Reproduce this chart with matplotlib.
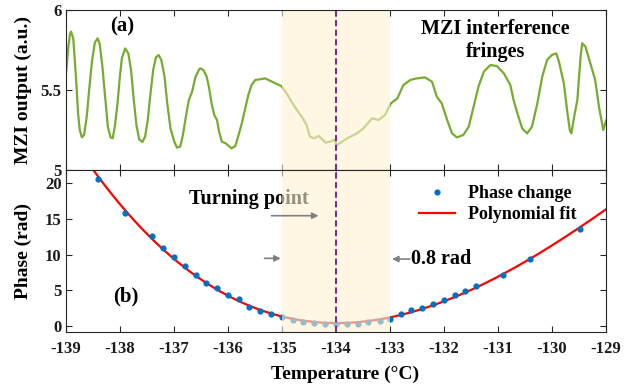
import numpy as np
import matplotlib
matplotlib.use('Agg')
import matplotlib.pyplot as plt
from matplotlib.lines import Line2D

# ---------------- data ----------------
temp_mzi = [-138.99, -138.95, -138.92, -138.90, -138.86, -138.81, -138.77, -138.74, -138.70, -138.66,
            -138.61, -138.56, -138.51, -138.46, -138.41, -138.37, -138.32, -138.27, -138.22, -138.17,
            -138.13, -138.09, -138.04, -138.00, -137.96, -137.90, -137.84, -137.79, -137.74, -137.69,
            -137.64, -137.58, -137.53, -137.48, -137.43, -137.38, -137.33, -137.28, -137.23, -137.17,
            -137.12, -137.06, -136.99, -136.94, -136.88, -136.83, -136.77, -136.72, -136.66, -136.60,
            -136.53,
            -136.51, -136.45, -136.39, -136.35, -136.30, -136.25, -136.20, -136.16, -136.11, -136.04,
            -135.98, -135.93, -135.86, -135.80, -135.74, -135.68, -135.62, -135.56, -135.49, -135.40,
            -135.31, -135.22, -135.12, -135.01, -134.91, -134.82, -134.72, -134.63, -134.54, -134.48,
            -134.40, -134.32, -134.25, -134.19, -134.11, -134.03,
            -133.98, -133.79, -133.61, -133.49, -133.33, -133.21, -133.09, -132.98, -132.86, -132.75,
            -132.62, -132.50, -132.35, -132.22, -132.13, -132.04, -131.94, -131.85, -131.76, -131.64,
            -131.54, -131.45, -131.36, -131.26, -131.14, -131.02, -130.89, -130.77, -130.71, -130.64,
            -130.55, -130.46, -130.37, -130.27, -130.18, -130.09, -130.00, -129.92, -129.87, -129.78,
            -129.72, -129.67, -129.64, -129.60, -129.53, -129.47, -129.44, -129.38, -129.29, -129.20,
            -129.13, -129.05, -129.00]
mzi_out = [5.615, 5.771, 5.850, 5.865, 5.823, 5.583, 5.354, 5.250, 5.204, 5.219,
           5.333, 5.521, 5.688, 5.796, 5.823, 5.788, 5.646, 5.458, 5.271, 5.204,
           5.198, 5.271, 5.417, 5.573, 5.698, 5.760, 5.729, 5.625, 5.438, 5.281,
           5.192, 5.175, 5.208, 5.313, 5.479, 5.625, 5.704, 5.719, 5.688, 5.583,
           5.417, 5.260, 5.177, 5.140, 5.146, 5.219, 5.344, 5.438, 5.490, 5.579,
           5.629,
           5.635, 5.625, 5.583, 5.521, 5.417, 5.344, 5.313, 5.240, 5.177, 5.167,
           5.150, 5.135, 5.150, 5.219, 5.292, 5.379, 5.469, 5.531, 5.563, 5.567,
           5.573, 5.558, 5.542, 5.525, 5.479, 5.427, 5.375, 5.333, 5.281, 5.208,
           5.198, 5.213, 5.192, 5.171, 5.177, 5.188,
           5.156, 5.198, 5.229, 5.260, 5.323, 5.313, 5.344, 5.417, 5.448, 5.531,
           5.563, 5.573, 5.579, 5.552, 5.458, 5.417, 5.313, 5.229, 5.204, 5.219,
           5.271, 5.396, 5.521, 5.615, 5.656, 5.650, 5.604, 5.531, 5.438, 5.354,
           5.260, 5.229, 5.271, 5.417, 5.583, 5.688, 5.719, 5.729, 5.677, 5.542,
           5.375, 5.250, 5.229, 5.313, 5.438, 5.708, 5.792, 5.771, 5.667, 5.563,
           5.396, 5.250, 5.308]

temp_pts = [-138.41, -137.90, -137.40, -137.20, -136.99, -136.79, -136.59, -136.40, -136.19, -135.99,
            -135.80, -135.60, -135.40, -135.20, -135.00, -134.80, -134.61, -134.40, -134.20, -134.00,
            -133.80, -133.59, -133.40, -133.19, -132.99, -132.80, -132.60, -132.40, -132.20, -132.00,
            -131.80, -131.60, -131.40, -130.90, -130.40, -129.49]
phase_pts = [20.64, 15.80, 12.65, 10.97, 9.71, 8.45, 7.10, 5.98, 5.37, 4.30,
             3.78, 2.71, 2.06, 1.63, 1.21, 0.84, 0.56, 0.38, 0.23, 0.22,
             0.28, 0.33, 0.61, 0.75, 1.03, 1.73, 2.19, 2.57, 3.08, 3.64,
             4.29, 4.95, 5.60, 7.20, 9.32, 13.60]

x_ticks = [-139, -138, -137, -136, -135, -134, -133, -132, -131, -130, -129]
x_ticklabels = ['-139', '-138', '-137', '-136', '-135', '-134', '-133', '-132', '-131', '-130', '-129']
mzi_ticks = [5, 5.5, 6]
mzi_ticklabels = ['5', '5.5', '6']
phase_ticks = [0, 5, 10, 15, 20]
phase_ticklabels = ['0', '5', '10', '15', '20']

shade_range = [-135, -133]
turning_point = -134

# polynomial fit of the phase data (as in the reference "Polynomial fit")
coef = np.polyfit(temp_pts, phase_pts, 3)
fit_t = np.linspace(-138.9, -129, 300)
fit_p = np.polyval(coef, fit_t)

# ---------------- style ----------------
plt.rcParams['font.family'] = ['Liberation Serif', 'DejaVu Serif']
plt.rcParams['font.weight'] = 'bold'
plt.rcParams['axes.unicode_minus'] = False

GREEN = '#77AC30'
BLUE = '#0072BD'
PURPLE = '#7E2F8E'
SPINE = '#262626'

fig = plt.figure(figsize=(6.37, 3.91), dpi=100)
ax1 = fig.add_axes([0.1031, 0.5652, 0.8482, 0.4092])
ax2 = fig.add_axes([0.1031, 0.1501, 0.8482, 0.4151])

ax1.plot(temp_mzi, mzi_out, color=GREEN, lw=1.6, zorder=2, solid_joinstyle='round')
ax1.set_xlim(-139, -129)
ax1.set_ylim(5, 6)
ax1.set_yticks(mzi_ticks)
ax1.set_yticklabels(mzi_ticklabels)
ax1.set_xticks(x_ticks)
ax1.set_xticklabels([])

l_fit, = ax2.plot(fit_t, fit_p, color='red', lw=1.6, zorder=2)
l_pts, = ax2.plot(temp_pts, phase_pts, linestyle='none', marker='o', color=BLUE,
                  ms=4.5, mec='none', zorder=3)
ax2.set_xlim(-139, -129)
ax2.set_ylim(-0.88, 21.85)
ax2.set_yticks(phase_ticks)
ax2.set_yticklabels(phase_ticklabels)
ax2.set_xticks(x_ticks)
ax2.set_xticklabels(x_ticklabels)

for ax in (ax1, ax2):
    ax.axvspan(shade_range[0], shade_range[1], color=(1.0, 0.94, 0.82), alpha=0.6, lw=0, zorder=4)
    ax.axvline(turning_point, color=PURPLE, lw=1.5, dashes=(3, 1.6), zorder=5)
    ax.tick_params(direction='in', top=True, right=True, length=4, width=0.8,
                   labelsize=12, colors=SPINE, labelcolor='#1a1a1a')
    ax.tick_params(axis='x', pad=6)
    ax.tick_params(axis='y', pad=3)
    for s in ax.spines.values():
        s.set_color(SPINE)
        s.set_linewidth(0.8)
        s.set_zorder(6)

ax1.set_ylabel('MZI output (a.u.)', fontsize=14, fontweight='bold')
ax2.set_ylabel('Phase (rad)', fontsize=14, fontweight='bold')
ax1.yaxis.set_label_coords(-0.062, 0.5)
ax2.yaxis.set_label_coords(-0.062, 0.5)
ax2.set_xlabel('Temperature (°C)', fontsize=14, fontweight='bold')
ax2.xaxis.set_label_coords(0.518, -0.205)

# texts
ax1.text(-137.96, 5.896, '(a)', fontsize=15, fontweight='bold', ha='center', va='center')
ax1.text(-131.05, 5.81, 'MZI interference\nfringes', fontsize=14.5, fontweight='bold',
         ha='center', va='center', linespacing=1.15)
ax2.text(-137.89, 4.1, '(b)', fontsize=15, fontweight='bold', ha='center', va='center')
ax2.text(-135.61, 17.75, 'Turning point', fontsize=14.5, fontweight='bold', ha='center', va='center')
ax2.text(-132.60, 9.35, '0.8 rad', fontsize=14.5, fontweight='bold', ha='left', va='center')

arrow_kw = dict(arrowstyle='-|>', color='#808080', lw=1.2, mutation_scale=9, shrinkA=0, shrinkB=0)
ax2.annotate('', xy=(-134.32, 15.45), xytext=(-135.19, 15.45), arrowprops=arrow_kw, zorder=7)
ax2.annotate('', xy=(-135.02, 9.48), xytext=(-135.32, 9.48), arrowprops=arrow_kw, zorder=7)
ax2.annotate('', xy=(-132.96, 9.38), xytext=(-132.63, 9.38), arrowprops=arrow_kw, zorder=7)

leg_handles = [Line2D([], [], linestyle='none', marker='o', color=BLUE, ms=4.5, mec='none'),
               Line2D([], [], color='red', lw=1.6)]
ax2.legend(leg_handles, ['Phase change', 'Polynomial fit'], loc='upper right',
           bbox_to_anchor=(0.959, 0.95), borderaxespad=0, frameon=False,
           prop={'size': 13, 'weight': 'bold'}, handlelength=2.0, handletextpad=0.7,
           labelspacing=0.2, numpoints=1)

fig.savefig('out.png', dpi=100)
